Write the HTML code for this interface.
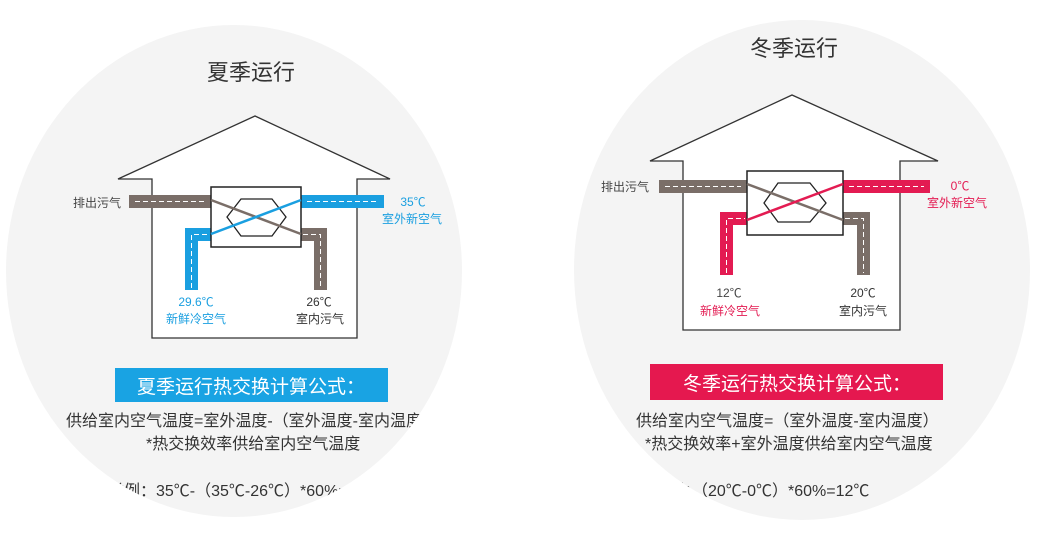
<!DOCTYPE html>
<html><head><meta charset="utf-8"><style>
html,body{margin:0;padding:0;background:#fff;width:1044px;height:535px;overflow:hidden}
svg{display:block}
text{font-family:"Liberation Sans","Noto Sans CJK SC",sans-serif}
</style></head><body>
<svg width="1044" height="535" viewBox="0 0 1044 535" xmlns="http://www.w3.org/2000/svg">
<defs>
<clipPath id="cl"><ellipse cx="234" cy="271" rx="228" ry="246"/></clipPath>
<clipPath id="cr"><ellipse cx="802" cy="270" rx="228" ry="250"/></clipPath>
</defs>
<ellipse cx="234" cy="271" rx="228" ry="246" fill="#f4f4f4"/>
<ellipse cx="802" cy="270" rx="228" ry="250" fill="#f4f4f4"/>

<!-- LEFT -->
<text x="251" y="80" font-size="22" text-anchor="middle" fill="#333">夏季运行</text>
<path d="M152,338 V179 H118 L255,116 L390,179 H357 V338 Z" fill="#fff" stroke="#333" stroke-width="1.3"/>
<rect x="129" y="195" width="82" height="13" fill="#7a6e68"/>
<rect x="301" y="195" width="83" height="13" fill="#1a9fe0"/>
<path d="M185,290 V228 H211 V241 H198 V290 Z" fill="#1a9fe0"/>
<path d="M301,228 H327 V290 H314 V241 H301 Z" fill="#7a6e68"/>
<g stroke="#fff" stroke-width="1" stroke-dasharray="5,3" fill="none">
<path d="M135,201.5 H205"/><path d="M307,201.5 H378"/>
<path d="M191.5,288 V234.5 H209"/><path d="M303,234.5 H320.5 V288"/>
</g>
<rect x="211" y="187" width="90" height="60" fill="#fff" stroke="#222" stroke-width="1.5"/>
<polygon points="227,217 241,199 272,199 286,217 272,236 241,236" fill="none" stroke="#222" stroke-width="1.3"/>
<line x1="211" y1="200" x2="301" y2="234" stroke="#7a6e68" stroke-width="2.5"/>
<line x1="211" y1="234" x2="301" y2="200" stroke="#1a9fe0" stroke-width="2.5"/>
<text x="97" y="207" font-size="12" text-anchor="middle" fill="#444">排出污气</text>
<text x="413" y="206" font-size="12" text-anchor="middle" fill="#1a9fe0">35℃</text>
<text x="412" y="223" font-size="12" text-anchor="middle" fill="#1a9fe0">室外新空气</text>
<text x="196" y="306" font-size="12" text-anchor="middle" fill="#1a9fe0">29.6℃</text>
<text x="196" y="323" font-size="12" text-anchor="middle" fill="#1a9fe0">新鲜冷空气</text>
<text x="319" y="306" font-size="12" text-anchor="middle" fill="#333">26℃</text>
<text x="320" y="323" font-size="12" text-anchor="middle" fill="#333">室内污气</text>
<rect x="115" y="368" width="273" height="34" fill="#19a3e3"/>
<text x="251" y="393" font-size="19" text-anchor="middle" fill="#fff">夏季运行热交换计算公式：</text>
<g clip-path="url(#cl)" font-size="16" fill="#333">
<text x="66" y="426">供给室内空气温度=室外温度-（室外温度-室内温度）</text>
<text x="146" y="449">*热交换效率供给室内空气温度</text>
<text x="108" y="496">举例：35℃-（35℃-26℃）*60%=29.6℃</text>
</g>

<!-- RIGHT -->
<text x="794" y="56" font-size="22" text-anchor="middle" fill="#333">冬季运行</text>
<path d="M683,330 V161 H650 L792,95 L938,161 H900 V330 Z" fill="#fff" stroke="#333" stroke-width="1.3"/>
<rect x="659" y="180" width="88" height="13" fill="#7a6e68"/>
<rect x="843" y="180" width="87" height="13" fill="#e31b52"/>
<path d="M720,275 V212 H747 V225 H733 V275 Z" fill="#e31b52"/>
<path d="M843,212 H870 V275 H857 V225 H843 Z" fill="#7a6e68"/>
<g stroke="#fff" stroke-width="1" stroke-dasharray="5,3" fill="none">
<path d="M665,186.5 H741"/><path d="M849,186.5 H924"/>
<path d="M726.5,273 V218.5 H745"/><path d="M845,218.5 H863.5 V273"/>
</g>
<rect x="747" y="171" width="96" height="64" fill="#fff" stroke="#222" stroke-width="1.5"/>
<polygon points="764,203 778,183 810,183 826,203 810,222 778,222" fill="none" stroke="#222" stroke-width="1.3"/>
<line x1="747" y1="184" x2="843" y2="220" stroke="#7a6e68" stroke-width="2.5"/>
<line x1="747" y1="220" x2="843" y2="184" stroke="#e31b52" stroke-width="2.5"/>
<text x="625" y="191" font-size="12" text-anchor="middle" fill="#444">排出污气</text>
<text x="960" y="190" font-size="12" text-anchor="middle" fill="#e31b52">0℃</text>
<text x="957" y="207" font-size="12" text-anchor="middle" fill="#e31b52">室外新空气</text>
<text x="729" y="297" font-size="12" text-anchor="middle" fill="#444">12℃</text>
<text x="730" y="315" font-size="12" text-anchor="middle" fill="#e31b52">新鲜冷空气</text>
<text x="863" y="297" font-size="12" text-anchor="middle" fill="#333">20℃</text>
<text x="863" y="315" font-size="12" text-anchor="middle" fill="#333">室内污气</text>
<rect x="650" y="364" width="293" height="36" fill="#e5184f"/>
<text x="797" y="390" font-size="19" text-anchor="middle" fill="#fff">冬季运行热交换计算公式：</text>
<g clip-path="url(#cr)" font-size="16" fill="#333">
<text x="636" y="426">供给室内空气温度=（室外温度-室内温度）</text>
<text x="645" y="449">*热交换效率+室外温度供给室内空气温度</text>
<text x="652" y="496">举例：（20℃-0℃）*60%=12℃</text>
</g>
</svg>
</body></html>
